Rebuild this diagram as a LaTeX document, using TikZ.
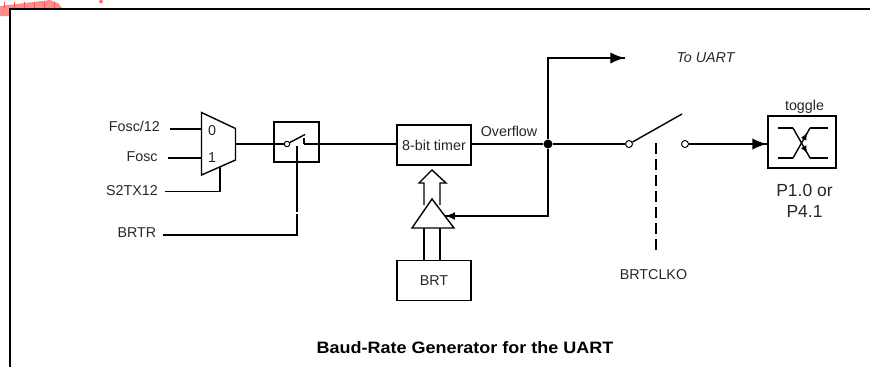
\documentclass[tikz,border=0pt]{standalone}
\usepackage{fontspec}
\setmainfont{Liberation Sans}
\usetikzlibrary{arrows}
\usetikzlibrary{decorations.markings}
\usetikzlibrary{positioning}
\tikzset{->/.style = {decoration={markings,
                                  mark=at position 1 with {\arrow[scale=2.1]{latex}}},
                      postaction={decorate}}}
\tikzset{smalltip/.style = {decoration={markings,
                                        mark=at position 1 with {\arrow[scale=1.4]{latex}}},
                            postaction={decorate}}}
\tikzset{midtip/.style = {decoration={markings,
                                      mark=at position 0.85 with {\arrow[scale=1.1]{latex}}},
                          postaction={decorate}}}
\tikzset{circ/.style = {fill, circle, inner sep = 0, minimum size = 9}}
\tikzset{opencirc/.style = {draw, fill=white, circle, inner sep = 0, minimum size = 7, line width = 1}}
\tikzset{block/.style = {draw, inner sep = 0, minimum width = 74, minimum height = 40, line width = 1.5}}
\tikzset{lbl/.style = {font=\fontsize{14.3}{17}\selectfont, text=black!85, inner sep = 0}}
\begin{document}
\begin{tikzpicture}[x=1pt, y=-1pt, line width=1.4pt]
      \useasboundingbox (0, 0) rectangle (870, 367);

      % smudge in the corner
      \fill [red!45] (0, 16) -- (0, 6) -- (25, 3) -- (50, 0) -- (58, 3) -- (62, 8) -- (10, 8) -- (10, 16) -- cycle;
      \fill [red!55] (101, 1.5) circle (2);
      \foreach \x in {4,14,24,34,44,54} {
        \draw [red!70, line width=0.4] (\x, 2) -- (\x, 8);
      }

      % frame
      \draw [line width=2] (10, 367) -- (10, 8.5) -- (870, 8.5);

      % multiplexer
      \coordinate (muxtl) at (201.5, 112.5);
      \coordinate (muxtr) at (235.5, 128.5);
      \coordinate (muxbr) at (235.5, 160);
      \coordinate (muxbl) at (201.5, 175);
      \draw [line join=miter] (muxtl) -- (muxtr) -- (muxbr) -- (muxbl) -- cycle;
      \node [lbl] (zero) at (212, 131) {0};
      \node [lbl] (one) at (212, 157.5) {1};

      \node [lbl, anchor=east] (fosctw) at (160.5, 126) {Fosc/12};
      \node [lbl, anchor=east] (fosc) at (158.3, 157) {Fosc};
      \node [lbl, anchor=east] (stx) at (158.5, 191) {S2TX12};
      \node [lbl, anchor=east] (brtr) at (157, 233) {BRTR};

      \coordinate (fosctwend) at (170, 129);
      \coordinate (foscend) at (168, 158);
      \coordinate (stxend) at (165, 191.5);
      \coordinate (brtrend) at (163, 235);
      \draw (fosctwend) -- (fosctwend -| muxtl);
      \draw (foscend) -- (foscend -| muxtl);
      \draw (stxend) -- (220, 191.5) -- (220, 167);

      % first switch
      \draw (274, 122) rectangle (319, 162);
      \node [opencirc, minimum size=5.5] (swa) at (287, 144) {};
      \coordinate (muxout) at (235.5, 144);
      \coordinate (swb) at (304, 144);
      \coordinate (swarm) at (305, 134.5);
      \draw (muxout) -- (swa);
      \draw (swa) -- (swarm);
      \draw (304, 138) -- (swb);

      % timer and reload
      \node [block, lbl] (timer) at (434, 145) {8-bit timer};
      \node [block, lbl] (brt) at (434, 280.5) {BRT};
      \draw (swb) -- (swb -| timer.west);

      \coordinate (ctl) at (297, 146);
      \draw [line width=2] (ctl) -- (297, 212);
      \draw (brtrend) -- (297, 235) -- (297, 214);

      \draw [fill=white, line join=miter] (424, 205) -- (424, 183) -- (419, 183) -- (432, 170) -- (446, 183) -- (440, 183) -- (440, 205);
      \draw (424, 228) -- (424, 260);
      \draw (440, 228) -- (440, 260);
      \draw [fill=white, line join=miter] (432, 199) -- (454, 228) -- (412, 228) -- cycle;

      % overflow line
      \node [lbl] (ovf) at (509, 131) {Overflow};
      \node [circ] (junc) at (548, 144) {};
      \node [opencirc] (sla) at (629, 144) {};
      \node [opencirc] (slb) at (685, 144) {};
      \coordinate (slarm) at (682, 114);
      \coordinate (uartend) at (625, 58);
      \coordinate (gate) at (445, 216);
      \draw (timer.east |- junc) -- (junc);
      \draw (junc) -- (sla);
      \draw (sla) -- (slarm);
      \draw [->] (junc) -- (548, 58) -- (uartend);
      \draw [smalltip] (junc) -- (548, 216) -- (gate);

      \node [lbl, font=\fontsize{14.3}{17}\selectfont\itshape] (uart) at (705.5, 58) {To UART};
      \coordinate (clko) at (656, 143);
      \draw [line width=1.5, dash pattern=on 11 off 5] (clko) -- (656, 252);
      \node [lbl] (brtclko) at (653.5, 275) {BRTCLKO};

      % output
      \node [block, minimum width=68, minimum height=52, line width=1.8] (tgl) at (802, 142) {};
      \draw [->] (slb) -- (slb -| tgl.west);
      \draw (778, 128) -- (793, 128);
      \draw [midtip] (793, 128) -- (810, 158);
      \draw (810, 158) -- (828, 158);
      \draw (778, 158) -- (793, 158);
      \draw [midtip] (793, 158) -- (810, 128);
      \draw (810, 128) -- (828, 128);
      \node [lbl] (tgltext) at (804.5, 107) {toggle};
      \node [lbl, font=\fontsize{17.5}{20}\selectfont] (pa) at (804.5, 190.5) {P1.0 or};
      \node [lbl, font=\fontsize{17.5}{20}\selectfont] (pb) at (804.5, 211) {P4.1};

      \node [lbl, font=\fontsize{16.5}{19}\selectfont\bfseries, text=black, xscale=1.09] (title) at (465, 347.5) {Baud-Rate Generator for the UART};
    \end{tikzpicture}
\end{document}
